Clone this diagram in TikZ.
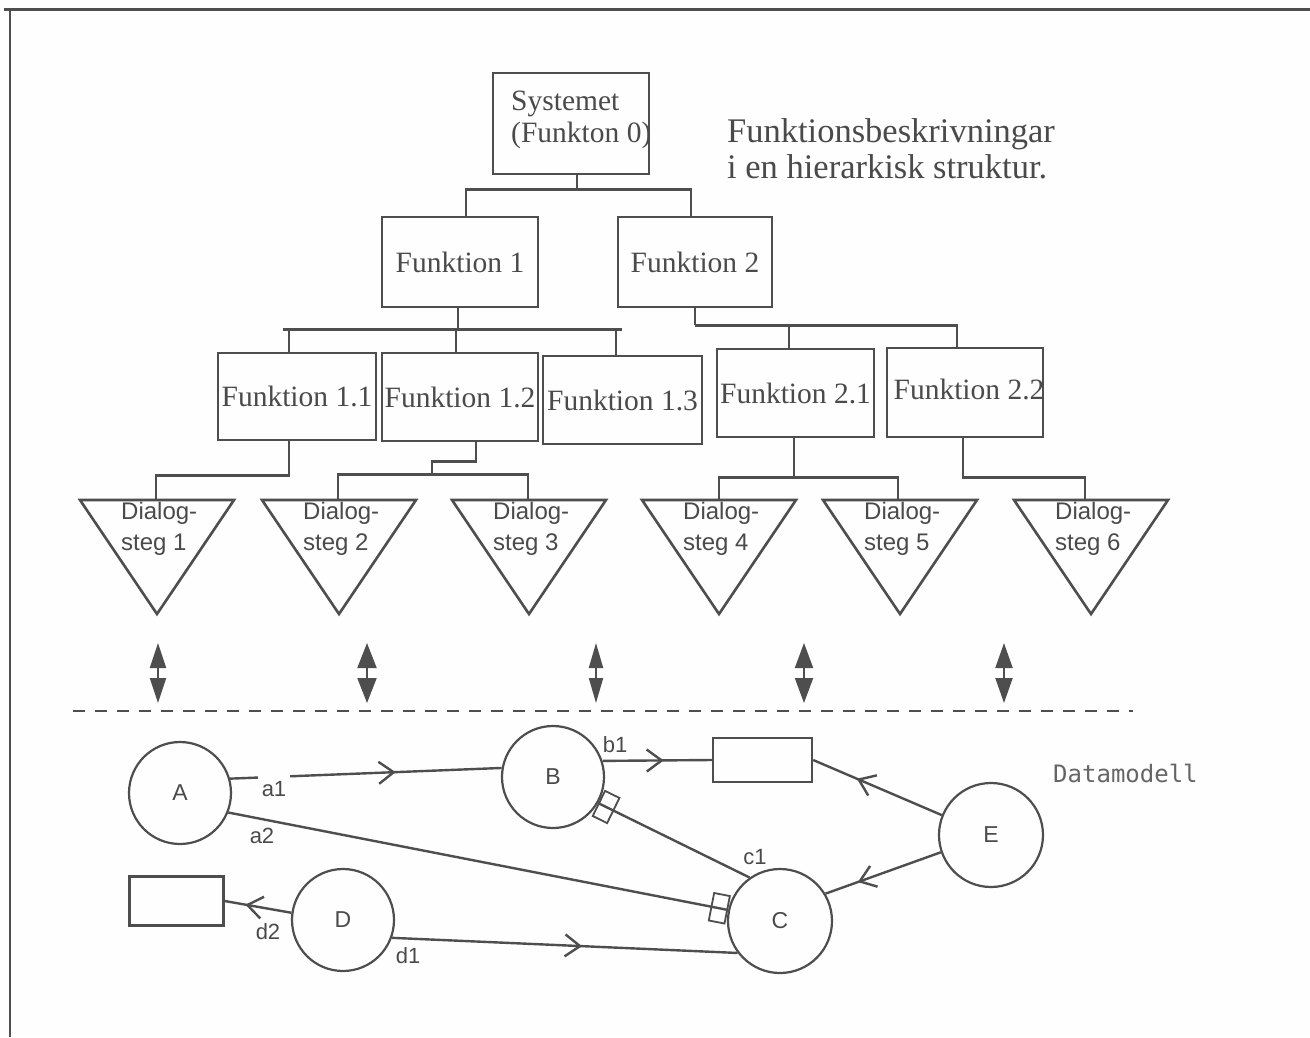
\documentclass[tikz,border=0pt]{standalone}
\usepackage{fontspec}
\setmainfont{Liberation Serif}
\newfontfamily\dsans{Liberation Sans}
\newfontfamily\dmono{DejaVu Sans Mono}
\usetikzlibrary{calc,arrows.meta,decorations.markings}
\definecolor{ink}{HTML}{4E4E4E}
\definecolor{txt}{HTML}{4A4A4A}
\definecolor{paper}{HTML}{FDFEFD}

\begin{document}
\begin{tikzpicture}[x=1pt,y=-1pt,
  fbox/.style={draw=ink, line width=2.8pt, inner sep=0pt, text=txt,
               font=\fontsize{29.5}{32}\selectfont},
  ftext/.style={inner sep=0pt, align=left, text=txt,
               font=\fontsize{29.5}{32}\selectfont},
  tline/.style={draw=ink, line width=2.4pt},
  tri/.style={draw=ink, line width=2.6pt, line join=miter},
  dtext/.style={font=\dsans\fontsize{24}{31}\selectfont, align=left,
               inner sep=0pt, anchor=north west, text=txt},
  dblarr/.style={draw=ink, fill=ink, line width=2pt},
  ent/.style={circle, draw=ink, line width=2.2pt, minimum size=102pt,
               inner sep=0pt, text=txt, font=\dsans\fontsize{23}{23}\selectfont},
  store/.style={draw=ink, line width=2.4pt, inner sep=0pt},
  rline/.style={draw=ink, line width=2.4pt},
  lbl/.style={inner sep=3pt, text=txt, font=\dsans\fontsize{22}{22}\selectfont},
  card/.style={draw=ink, line width=1.8pt, minimum width=16pt,
               minimum height=28pt, inner sep=0pt, sloped},
  chev/.style={postaction={decorate, decoration={markings,
               mark=at position #1 with {\arrow{Straight Barb[length=15pt,width=22pt]}}}}}
]
\useasboundingbox (0,0) rectangle (1310,1037);
\fill[paper] (0,0) rectangle (1310,1037);

% frame
\draw[ink, line width=3pt] (4,9) -- (1310,9);
\draw[ink, line width=2.4pt] (10,9) -- (10,1037);

% ---------- function hierarchy ----------
\node[fbox, minimum width=156pt, minimum height=101pt] (f0) at (571,123.5) {};
\node[ftext, anchor=north west] (f0t) at (511,91) {Systemet\\(Funkton 0)};

\node[ftext, anchor=north west, font=\fontsize{34.5}{36}\selectfont] (title)
  at (727,118) {Funktionsbeskrivningar\\i en hierarkisk struktur.};

\node[fbox, minimum width=156pt, minimum height=90pt] (f1) at (460,262) {Funktion 1};
\node[fbox, minimum width=154pt, minimum height=90pt] (f2) at (695,262) {Funktion 2};

\node[fbox, minimum width=158pt, minimum height=87pt] (f11) at (297,396.5) {Funktion 1.1};
\node[fbox, minimum width=156pt, minimum height=88pt] (f12) at (460,397) {Funktion 1.2};
\node[fbox, minimum width=159pt, minimum height=88pt] (f13) at (622.5,400) {Funktion 1.3};
\node[fbox, minimum width=157pt, minimum height=88pt] (f21) at (795.5,393) {Funktion 2.1};
\node[fbox, minimum width=156pt, minimum height=89pt] (f22) at (965,392.5) {};
\node[ftext] (f22t) at (969,389) {Funktion 2.2};

% tree connectors
\draw[tline] ($(f0.south)+(6,0)$) -- ++(0,14) coordinate (j0);
\draw[tline] ($(f1.north)+(6,0)$) |- (j0) -| ($(f2.north)+(-4,0)$);

\draw[tline] ($(f1.south)+(-2,0)$) -- ++(0,21) coordinate (j1);
\draw[tline] ($(f11.north)+(-8,0)$) |- ($(j1)+(-175,0)$) -- ($(j1)+(164,0)$);
\draw[tline] ($(f11.north)+(-8,0)$) |- (j1) -| ($(f13.north)+(-6.5,0)$);
\draw[tline] ($(f12.north)+(-4,0)$) |- (j1);

\draw[tline] (f2.south) -- ++(0,17) coordinate (j2);
\draw[tline] ($(f21.north)+(-6.5,0)$) |- (j2) -| ($(f22.north)+(-8,0)$);

% dialogue steps
\foreach \i/\x/\c in {1/157/156,2/339/338,3/529/528,4/719/719,5/900/898,6/1091/1085}{
  \coordinate (t\i) at (\c,500);
  \draw[tri] (\x-77,500) -- (\x+77,500) -- (\x,614) -- cycle;
  \node[dtext] (ds\i) at (\x-36,502) {Dialog-\\steg \i};
}

\draw[tline] ($(f11.south)+(-8,0)$) -- ++(0,34) -| (t1);
\draw[tline] ($(f12.south)+(16,0)$) -- ++(0,19) -| ++(-44,13) coordinate (j3);
\draw[tline] (t2) |- (j3) -| (t3);
\draw[tline] ($(f21.south)+(-1.5,0)$) -- ++(0,39) coordinate (j4);
\draw[tline] (t4) |- (j4) -| (t5);
\draw[tline] ($(f22.south)+(-2,0)$) -- ++(0,39) -| (t6);

% two-way arrows between dialogue and data model
\foreach \x/\w in {158/16pt,367/19pt,596/14pt,804/18pt,1004/17pt}{
  \draw[dblarr, {Triangle[length=25pt,width=\w]}-{Triangle[length=25pt,width=\w]}]
    (\x,643) -- (\x,703);
}

% divider
\draw[ink, line width=2.2pt, dash pattern=on 12pt off 10pt] (73,711) -- (1133,711);

% ---------- data model ----------
\node[ent] (A) at (180,793) {A};
\node[ent] (B) at (553,777) {B};
\node[ent, minimum size=104pt] (C) at (780,921) {C};
\node[ent] (D) at (343,920) {D};
\node[ent, minimum size=104pt] (E) at (991,835) {E};
\node[store, minimum width=99pt, minimum height=44pt] (rb) at (762.5,760) {};
\node[store, minimum width=94pt, minimum height=49pt] (rd) at (176.5,901) {};

\node[anchor=west, inner sep=0pt, text=txt!85,
      font=\dmono\fontsize{24}{24}\selectfont] (dm) at (1053,773) {Datamodell};

\draw[rline, chev=0.61] (A.16) -- (B.170);
\node[lbl, fill=paper, inner xsep=4pt, inner ysep=8pt] (la1) at (274,789) {a1};

\draw[rline] (A.-22) -- (C.168) node[card, at end, anchor=east] (ka2) {};
\node[lbl] (la2) at (262,836) {a2};

\draw[rline] (B.-30) -- (C.125) node[card, at start, anchor=west] (kc1) {};
\node[lbl] (lc1) at (755,857) {c1};

\draw[rline, chev=0.56] (B.18) -- (rb.west);
\node[lbl] (lb1) at (615,745) {b1};

\draw[rline, chev=0.66] (E.158) -- (rb.east);
\draw[rline, chev=0.72] (E.199) -- (C.31);

\draw[rline, chev=0.69] (D.172) -- (rd.east);
\node[lbl] (ld2) at (268,932) {d2};

\draw[rline, chev=0.55] (D.-20) -- (C.217);
\node[lbl] (ld1) at (408,956) {d1};
\end{tikzpicture}
\end{document}
